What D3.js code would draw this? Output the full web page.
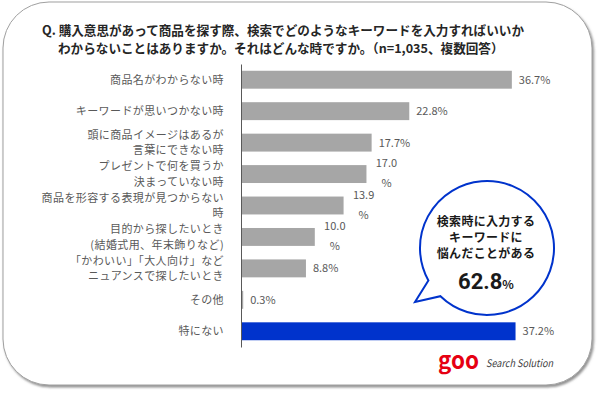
<!DOCTYPE html>
<html>
<head>
<meta charset="utf-8">
<script src="https://cdn.jsdelivr.net/npm/d3@7"></script>
<style>
  body { margin: 0; background: #fff; }
  text { font-family: "Noto Sans CJK JP", "Noto Sans", sans-serif; }
</style>
</head>
<body>
<script>
// data
var categories = [
  "商品名がわからない時",
  "キーワードが思いつかない時",
  "頭に商品イメージはあるが\n言葉にできない時",
  "プレゼントで何を買うか\n決まっていない時",
  "商品を形容する表現が見つからない\n時",
  "目的から探したいとき\n(結婚式用、年末飾りなど)",
  "「かわいい」「大人向け」など\nニュアンスで探したいとき",
  "その他",
  "特にない"
];
var values = [36.7, 22.8, 17.7, 17.0, 13.9, 10.0, 8.8, 0.3, 37.2];
var valueLabels = ["36.7%", "22.8%", "17.7%", "17.0\n%", "13.9\n%", "10.0\n%", "8.8%", "0.3%", "37.2%"];
var titleLines = [
  "Q. 購入意思があって商品を探す際、検索でどのようなキーワードを入力すればいいか",
  "わからないことはありますか。それはどんな時ですか。（n=1,035、複数回答）"
];
var bubbleLines = ["検索時に入力する", "キーワードに", "悩んだことがある"];
var totalShare = 62.8;

var width = 600,
  height = 393;

var svg = d3.select('body')
  .append('svg')
  .attr('width', width)
  .attr('height', height);

var defs = svg.append('defs');
var shadow = defs.append('filter').attr('id', 'shadow')
  .attr('x', '-5%').attr('y', '-5%').attr('width', '110%').attr('height', '110%');
shadow.append('feDropShadow')
  .attr('dx', 1.5).attr('dy', 2)
  .attr('stdDeviation', 1.3)
  .attr('flood-color', '#777')
  .attr('flood-opacity', 0.8);

// frame
svg.append('rect')
  .attr('x', 3).attr('y', 2)
  .attr('width', 589).attr('height', 383)
  .attr('rx', 46).attr('ry', 46)
  .attr('fill', '#fff')
  .attr('stroke', '#a0a0a0')
  .attr('stroke-width', 1)
  .attr('filter', 'url(#shadow)');

// title
svg.append('g').selectAll('text')
  .data(titleLines)
  .enter()
  .append('text')
  .attr('x', (d, i) => i == 0 ? 42 : 58)
  .attr('y', (d, i) => 35 + i * 18)
  .attr('font-size', 12.6)
  .attr('font-weight', 'bold')
  .attr('fill', '#262626')
  .text(d => d);

var xScale = d3.scaleLinear().domain([0, 40]).range([241, 241 + 295.2]);
var yScale = d3.scaleBand()
  .domain(categories)
  .range([64, 347])
  .paddingInner(0.43)
  .paddingOuter(0.215);

// bars
svg.append('g').selectAll('rect')
  .data(values)
  .enter()
  .append('rect')
  .attr('x', xScale(0))
  .attr('y', (d, i) => yScale(categories[i]))
  .attr('width', d => xScale(d) - xScale(0))
  .attr('height', yScale.bandwidth())
  .attr('fill', (d, i) => i == values.length - 1 ? '#0033cc' : '#a6a6a6');

// axis
var yAxis = d3.axisLeft(yScale).tickSize(0).tickFormat('');
svg.append('g')
  .attr('transform', 'translate(' + xScale(0) + ',0)')
  .call(yAxis)
  .select('.domain')
  .attr('stroke', '#595959');

// category labels
var catG = svg.append('g');
categories.forEach(function (c, i) {
  var lines = c.split('\n');
  var cy = yScale(c) + yScale.bandwidth() / 2;
  var t = catG.append('text')
    .attr('x', 224)
    .attr('text-anchor', 'end')
    .attr('font-size', 11)
    .attr('letter-spacing', 0.4)
    .attr('fill', '#595959');
  lines.forEach(function (l, j) {
    t.append('tspan')
      .attr('x', 224)
      .attr('y', cy + 4 + (j - (lines.length - 1) / 2) * 15.5)
      .text(l);
  });
});

// value labels
var valG = svg.append('g');
values.forEach(function (v, i) {
  var lab = valueLabels[i].split('\n');
  var cy = yScale(categories[i]) + yScale.bandwidth() / 2;
  var t = valG.append('text')
    .attr('font-size', 11)
    .attr('fill', '#595959');
  if (lab.length == 1) {
    t.attr('x', xScale(v) + 7).attr('y', cy + 4).text(lab[0]);
  } else {
    t.attr('text-anchor', 'middle');
    lab.forEach(function (l, j) {
      t.append('tspan')
        .attr('x', xScale(v) + 20)
        .attr('y', cy + 4 + (j == 0 ? -11 : 9))
        .text(l);
    });
  }
});

// speech bubble
var cx = 487, cyb = 248, r = 67;
function pt(a) {
  var rad = a * Math.PI / 180;
  return [cx + r * Math.cos(rad), cyb + r * Math.sin(rad)];
}
var pA = pt(151), pB = pt(134);
svg.append('path')
  .attr('d', 'M' + pA[0] + ',' + pA[1] +
    'A' + r + ',' + r + ' 0 1 1 ' + pB[0] + ',' + pB[1] +
    'L415,302Z')
  .attr('fill', '#fff')
  .attr('stroke', '#0033cc')
  .attr('stroke-width', 2)
  .attr('stroke-linejoin', 'miter');

var bubbleText = svg.append('text')
  .attr('text-anchor', 'middle')
  .attr('font-size', 12)
  .attr('letter-spacing', 0.3)
  .attr('font-weight', 'bold')
  .attr('fill', '#1a1a1a');
bubbleLines.forEach(function (l, i) {
  bubbleText.append('tspan')
    .attr('x', 486)
    .attr('y', 226 + i * 16)
    .text(l);
});

var big = svg.append('text')
  .attr('x', 486)
  .attr('y', 289)
  .attr('text-anchor', 'middle')
  .attr('font-weight', 'bold')
  .attr('fill', '#1a1a1a');
big.append('tspan').attr('font-size', 22).attr('font-family', 'Roboto, sans-serif').text(totalShare.toFixed(1));
big.append('tspan').attr('font-size', 12).text('%');

// logo
svg.append('text')
  .attr('x', 438)
  .attr('y', 369)
  .attr('font-size', 24)
  .attr('font-weight', 'bold')
  .attr('font-family', 'Lato, sans-serif')
  .attr('fill', '#e60012')
  .attr('textLength', 41)
  .attr('lengthAdjust', 'spacingAndGlyphs')
  .text('goo');
svg.append('text')
  .attr('x', 486)
  .attr('y', 367)
  .attr('font-size', 10.5)
  .attr('font-style', 'italic')
  .attr('font-family', '"Open Sans", sans-serif')
  .attr('fill', '#404040')
  .attr('textLength', 67)
  .attr('lengthAdjust', 'spacingAndGlyphs')
  .text('Search Solution');
</script>
</body>
</html>
